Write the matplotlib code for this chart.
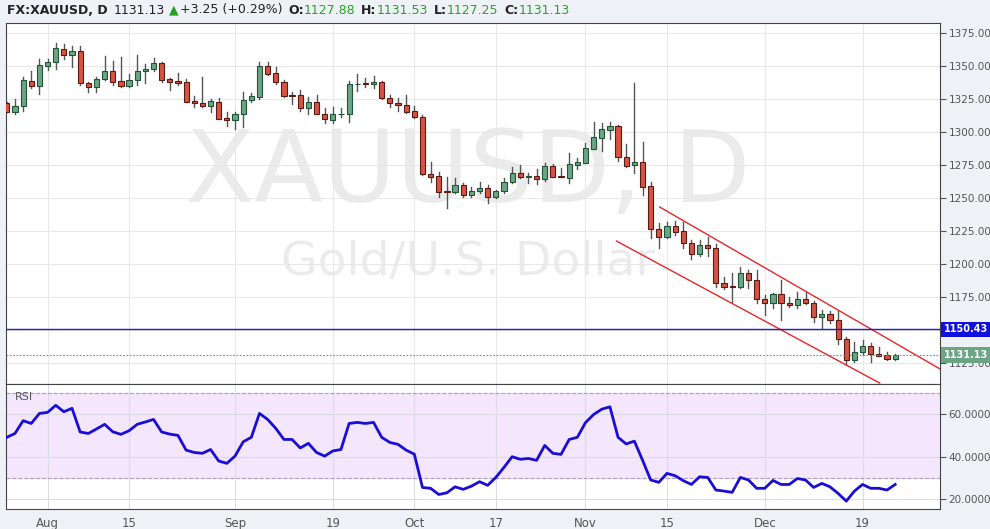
import numpy as np
import matplotlib
matplotlib.use("Agg")
from matplotlib import pyplot as plt
from matplotlib.patches import Rectangle

# daily candles, index 0..109 (Jul 29 .. Dec 22)
opens = [1322, 1315, 1320, 1339, 1335, 1350, 1353, 1363, 1358, 1361,
         1337, 1334, 1340, 1346, 1338.6, 1335, 1339.4, 1346, 1348, 1352,
         1340, 1338.6, 1338, 1323.5, 1321.7, 1320, 1323, 1310.6, 1308.8, 1313.4,
         1324, 1326.8, 1350, 1344.4, 1337.6, 1327.5, 1327.8, 1318.4, 1322.5, 1314,
         1309, 1313.4, 1314, 1336, 1337, 1336, 1337.6, 1325.5, 1322, 1320.5,
         1316, 1311, 1268.2, 1266.7, 1255, 1254.8, 1259.6, 1252, 1255, 1257.3,
         1250.5, 1255, 1261.9, 1268.7, 1266, 1266.7, 1264.2, 1274.3, 1266.7, 1265.5,
         1275.3, 1276.8, 1287.4, 1295.7, 1301.8, 1304.3, 1281.3, 1274.8, 1277, 1259,
         1226.3, 1220.7, 1228.8, 1225, 1215.7, 1207.3, 1214.4, 1211.9, 1185.9, 1183.3,
         1182.3, 1192.9, 1187.9, 1173.2, 1170.7, 1177, 1170.2, 1169.2, 1173.2, 1170.2,
         1159.6, 1161.9, 1157.6, 1142.9, 1127.3, 1133.6, 1137.9, 1131.6, 1131, 1127.9]
closes = [1315, 1320, 1339.4, 1335, 1350.5, 1353, 1363.4, 1358, 1361, 1337,
          1334, 1340, 1346, 1338, 1335, 1339.4, 1346, 1348, 1352, 1339.4,
          1338, 1337.4, 1323, 1321.7, 1320, 1323.5, 1310, 1308.8, 1313.4, 1324.2,
          1327, 1350, 1344, 1337.6, 1327, 1327.4, 1318.4, 1322.5, 1314, 1309.6,
          1313.4, 1314, 1336.4, 1336.6, 1336, 1337.6, 1325.5, 1321.7, 1320.2, 1315.4,
          1311, 1268, 1266.2, 1254.3, 1254.3, 1259.6, 1252, 1255, 1257.3, 1250.5,
          1255, 1261.9, 1268.7, 1265.7, 1266.9, 1264.2, 1274.3, 1266.2, 1265.7, 1275.5,
          1277.3, 1287.6, 1296, 1302, 1304.3, 1281.3, 1274.5, 1277.3, 1258.6, 1226.3,
          1220.7, 1228.8, 1224.5, 1215.7, 1207.3, 1214.4, 1211.9, 1185.9, 1182.8, 1182.3,
          1192.9, 1187.9, 1173.2, 1170.7, 1177, 1170.2, 1169.2, 1173.2, 1170.2, 1159.6,
          1161.9, 1157.6, 1142.9, 1127.3, 1133.6, 1137.9, 1131.8, 1130.6, 1127.8, 1131.13]
highs = [1323, 1325, 1342, 1346, 1355, 1355, 1367.7, 1367, 1365, 1365,
         1338, 1342, 1357.6, 1354, 1356.6, 1344, 1358, 1351.5, 1356, 1353,
         1341, 1344.4, 1340, 1327, 1342, 1325, 1325.5, 1315.4, 1315.4, 1330.3,
         1329.3, 1353.3, 1353.3, 1349.5, 1339.4, 1330.3, 1331.8, 1326.3, 1328, 1318,
         1319.2, 1318, 1339, 1344, 1340.7, 1342.4, 1339, 1328, 1325.5, 1328,
         1319.7, 1312.9, 1277.6, 1269.5, 1265.7, 1265, 1261.6, 1258.6, 1262.4, 1259.9,
         1256, 1265, 1273.2, 1274.8, 1268.7, 1271.7, 1276.8, 1275.8, 1272.5, 1283.8,
         1280, 1291.4, 1307.8, 1307, 1307.6, 1305.3, 1290.7, 1336.9, 1292.2, 1262,
         1231.3, 1232, 1232.8, 1232, 1218.2, 1218.2, 1220.7, 1214.9, 1190.4, 1192.9,
         1197.5, 1195.5, 1195.5, 1176.5, 1177.8, 1187.9, 1175.3, 1179, 1179, 1172.2,
         1165.2, 1164.4, 1164.6, 1145, 1141.2, 1142.4, 1139.9, 1136.9, 1133.6, 1131.53]
lows = [1315, 1314, 1316, 1333, 1329, 1347, 1347.5, 1355, 1349.5, 1335.6,
        1330.6, 1330.6, 1339.4, 1335.6, 1334, 1334, 1335.6, 1337, 1346.5, 1338,
        1332, 1335.6, 1323, 1318.7, 1318.7, 1315, 1309.6, 1304.6, 1302.5, 1303.5,
        1323, 1325.3, 1343, 1336, 1326.3, 1321, 1316, 1314, 1314, 1306.6,
        1306.6, 1311.6, 1307.8, 1331.3, 1334.3, 1333, 1324.8, 1318.7, 1316.2, 1314.1,
        1310.4, 1267.4, 1262.4, 1250.5, 1242.2, 1253.5, 1251, 1250.5, 1253.5, 1246.5,
        1249.8, 1254, 1261.1, 1265, 1261.6, 1260.6, 1263.1, 1265.7, 1265.7, 1261.6,
        1271.7, 1276.3, 1286.9, 1285.9, 1294.7, 1278.3, 1273.2, 1268.7, 1252.3, 1219.5,
        1211.9, 1219.5, 1222, 1211.9, 1203.5, 1206, 1206, 1182.3, 1180.8, 1171.5,
        1181.6, 1181.6, 1170.7, 1161.4, 1166.9, 1157.6, 1167.2, 1166.4, 1169.7, 1156.3,
        1151.3, 1155.6, 1139.4, 1123.5, 1126, 1131.1, 1126, 1130.3, 1127.3, 1127.25]

rsi = [49.1, 50.9, 56.9, 55.6, 60.3, 60.8, 64.1, 61.1, 62.7, 51.6,
       50.9, 53.0, 55.2, 51.7, 50.5, 52.2, 55.2, 56.3, 57.5, 51.6,
       50.6, 50.0, 43.1, 42.0, 41.6, 43.4, 38.0, 36.9, 40.3, 47.0,
       49.1, 60.3, 57.5, 53.3, 48.1, 48.1, 44.1, 46.3, 42.0, 40.3,
       42.7, 43.4, 55.6, 56.1, 55.6, 56.1, 49.1, 46.7, 45.8, 43.1,
       41.2, 25.6, 25.2, 22.3, 23.1, 25.9, 24.7, 26.2, 28.3, 26.6,
       30.3, 35.0, 40.0, 38.8, 39.2, 38.3, 45.3, 41.6, 41.1, 48.1,
       49.1, 56.0, 59.8, 62.3, 63.4, 49.1, 46.0, 47.3, 38.4, 29.1,
       28.0, 32.2, 31.1, 28.8, 27.0, 30.6, 30.3, 24.4, 23.9, 23.3,
       30.3, 29.1, 25.2, 25.2, 28.9, 27.0, 27.0, 29.8, 29.1, 25.6,
       27.5, 25.9, 22.8, 19.2, 23.9, 27.0, 25.2, 25.2, 24.4, 27.0]

tick_pos = [5, 15, 28, 40, 50, 60, 71, 81, 93, 105]
tick_labels = ['Aug', '15', 'Sep', '19', 'Oct', '17', 'Nov', '15', 'Dec', '19']

# channel lines (index, price)
upper_x, upper_y = [80.1, 114.5], [1243.2, 1120.5]
lower_x, lower_y = [74.8, 107.1], [1217.4, 1109.8]
hline_level = 1150.43
last_close = 1131.13

UP, DOWN = '#6ba583', '#d75442'
UP_E, DOWN_E = '#225437', '#5b1a13'

W, H = 990, 529
fig = plt.figure(figsize=(W / 100, H / 100), dpi=100, facecolor='#eef1f5')
left, right = 6 / W, 940 / W
ax = fig.add_axes([left, (H - 384) / H, right - left, (384 - 22.7) / H], facecolor='white')
ax2 = fig.add_axes([left, (H - 509) / H, right - left, (509 - 384) / H], facecolor='white', sharex=ax)

n = len(opens)
for i in range(n):
    o, c = opens[i], closes[i]
    up = c >= o
    ec = UP_E if up else DOWN_E
    ax.plot([i, i], [lows[i], highs[i]], color='#555555', lw=1, zorder=3)
    bot, hgt = min(o, c), max(abs(c - o), 0.6)
    ax.add_patch(Rectangle((i - 0.32, bot), 0.64, hgt, facecolor=UP if up else DOWN,
                           edgecolor=ec, lw=0.8, zorder=4))

ax.plot(upper_x, upper_y, color='#e8262a', lw=1, zorder=5)
ax.plot(lower_x, lower_y, color='#e8262a', lw=1, zorder=5)
ax.axhline(hline_level, color='#1c1cc8', lw=1, zorder=5)
ax.axhline(last_close, color='#5f9a78', lw=0.8, ls=(0, (1.5, 1.5)), zorder=5)

ax.set_xlim(-0.1, 114.5)
ax.set_ylim(1109.1, 1382.8)
ax.set_yticks(np.arange(1125, 1376, 25))
ax.yaxis.tick_right()
ax.yaxis.set_major_formatter(matplotlib.ticker.FormatStrFormatter('%.2f'))
ax.set_xticks(tick_pos)
ax.tick_params(axis='x', length=0, labelbottom=False)
ax.tick_params(axis='y', labelsize=7.5, colors='#555555', length=4, pad=2)
ax.grid(True, color='#e8e8e8', lw=0.8)
ax.set_axisbelow(True)

ax.text(0.495, 0.58, 'XAUUSD, D', transform=ax.transAxes, ha='center', va='center',
        fontsize=72, color='#ebebeb', zorder=0)
ax.text(0.495, 0.335, 'Gold/U.S. Dollar', transform=ax.transAxes, ha='center', va='center',
        fontsize=34, color='#ebebeb', zorder=0)

lbl = dict(transform=ax.get_yaxis_transform(), ha='left', va='center', fontsize=7,
           color='white', fontweight='bold', clip_on=False)
ax.text(1.004, hline_level, '1150.43', bbox=dict(boxstyle='square,pad=0.3', fc='#1010e0', ec='none'), **lbl)
ax.text(1.004, last_close, '1131.13', bbox=dict(boxstyle='square,pad=0.3', fc='#6ba583', ec='none'), **lbl)

# RSI panel
x = np.arange(n)
ax2.axhspan(30, 70, color='#f3e6fd', zorder=0)
ax2.axhline(70, color='#aaa0bb', lw=0.8, ls='--')
ax2.axhline(30, color='#aaa0bb', lw=0.8, ls='--')
ax2.plot(x, rsi, color='#1a0dd6', lw=2, zorder=4)
ax2.set_ylim(15.5, 74.1)
ax2.set_yticks([20, 40, 60])
ax2.yaxis.tick_right()
ax2.yaxis.set_major_formatter(matplotlib.ticker.FormatStrFormatter('%.4f'))
ax2.tick_params(axis='y', labelsize=7.5, colors='#555555', length=4, pad=2)
ax2.set_xticks(tick_pos)
ax2.set_xticklabels(tick_labels)
ax2.tick_params(axis='x', labelsize=8.5, colors='#555555', length=0, pad=6)
ax2.grid(True, color='#dcdce4', lw=0.8)
ax2.set_axisbelow(True)
ax2.text(0.009, 0.9, 'RSI', transform=ax2.transAxes, fontsize=8, color='#555555', va='center')

for a in (ax, ax2):
    for s in a.spines.values():
        s.set_color('#444444')

# header: pieces chained left to right
pieces = [('FX:XAUUSD, D', '#222222', 'bold', 6), ('1131.13', '#222222', 'normal', 4),
          ('▲', '#22a022', 'normal', 1), ('+3.25 (+0.29%)', '#222222', 'normal', 6),
          ('O:', '#222222', 'bold', 0), ('1127.88', '#2e9e2e', 'normal', 6),
          ('H:', '#222222', 'bold', 0), ('1131.53', '#2e9e2e', 'normal', 6),
          ('L:', '#222222', 'bold', 0), ('1127.25', '#2e9e2e', 'normal', 6),
          ('C:', '#222222', 'bold', 0), ('1131.13', '#2e9e2e', 'normal', 0)]
fig.canvas.draw()
r = fig.canvas.get_renderer()
px = 7
for t, col, fw, gap in pieces:
    tx = fig.text(px / W, 1 - 10 / H, t, color=col, fontweight=fw, fontsize=9, va='center', ha='left')
    px += tx.get_window_extent(r).width + gap

fig.savefig('out.png', dpi=100, facecolor=fig.get_facecolor())
